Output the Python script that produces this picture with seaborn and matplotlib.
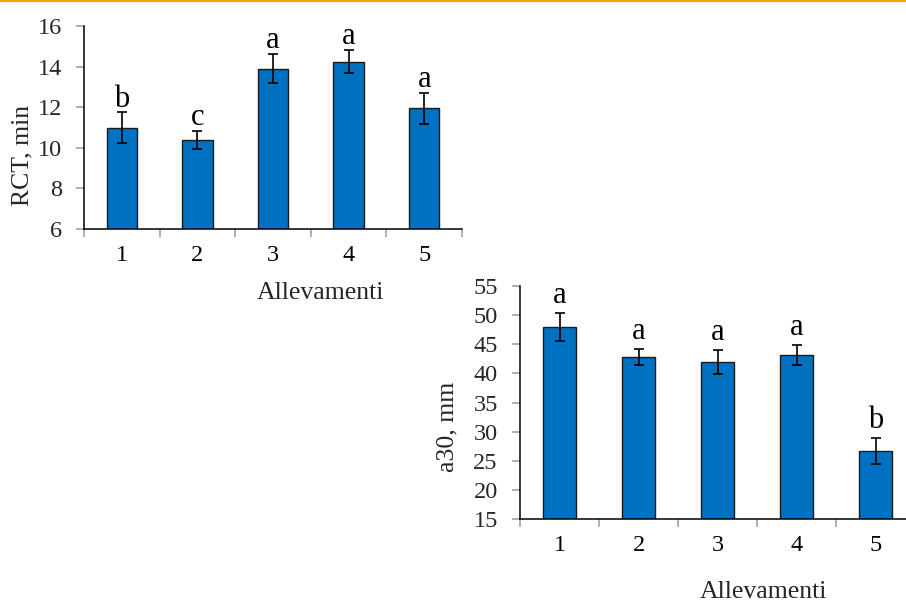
import matplotlib
matplotlib.use("Agg")
import matplotlib.pyplot as plt
from matplotlib.lines import Line2D
import numpy as np
import pandas as pd
import seaborn as sns

# Farm groups
allevamenti = ["1", "2", "3", "4", "5"]

# Rennet coagulation time (min): means, standard errors, significance letters
rct_mean = [11.0, 10.4, 13.9, 14.25, 11.95]
rct_err = [0.75, 0.45, 0.73, 0.58, 0.76]
rct_letters = ["b", "c", "a", "a", "a"]

# Curd firmness at 30 min (mm)
a30_mean = [48.0, 42.8, 42.0, 43.2, 26.7]
a30_err = [2.35, 1.4, 2.1, 1.7, 2.25]
a30_letters = ["a", "a", "a", "a", "b"]

rct_ticks = [6, 8, 10, 12, 14, 16]
a30_ticks = [15, 20, 25, 30, 35, 40, 45, 50, 55]

sns.set_style("white")
plt.rcParams["font.family"] = ["Liberation Serif", "DejaVu Serif"]

BAR_COLOR = "#0070C0"
TICK_GRAY = "#9a9a9a"
TICK_FS = 17.5
LETTER_FS = 22

fig = plt.figure(figsize=(9.06, 6.04), dpi=100)
W, H = 906, 604

ax1 = fig.add_axes([84 / W, 1 - 229 / H, 378 / W, 203 / H])
ax2 = fig.add_axes([520 / W, 1 - 519.3 / H, 395 / W, 233.3 / H])


def panel(ax, means, errs, letters, yticks, ylabel, bar_width, letter_pad,
          xlabel_xy, ylabel_xy):
    df = pd.DataFrame({"Allevamenti": allevamenti, "val": means})
    sns.barplot(data=df, x="Allevamenti", y="val", order=allevamenti, ax=ax,
                color=BAR_COLOR, saturation=1, width=bar_width,
                edgecolor="#1a1a1a", linewidth=1.0, errorbar=None)
    xs = np.arange(len(allevamenti))
    ax.errorbar(xs, means, yerr=errs, fmt="none", ecolor="black",
                elinewidth=1.2, capsize=3.5, capthick=1.2, zorder=5)
    for x, m, e, t in zip(xs, means, errs, letters):
        ax.annotate(t, (x, m + e), xytext=(0, letter_pad),
                    textcoords="offset points", ha="center", va="baseline",
                    fontsize=LETTER_FS, color="black")

    ax.set_xlim(-0.5, len(allevamenti) - 0.5)
    ax.set_ylim(yticks[0], yticks[-1])
    ax.set_yticks(yticks)
    ax.set_yticklabels([str(v) for v in yticks], fontsize=TICK_FS)

    # category boundaries carry the tick marks, centres carry the labels
    ax.set_xticks(np.arange(-0.5, len(allevamenti) + 0.5, 1.0))
    ax.set_xticklabels([])
    ax.set_xticks(xs, minor=True)
    ax.set_xticklabels(allevamenti, minor=True, fontsize=TICK_FS)

    ax.tick_params(axis="x", which="major", direction="out", length=6,
                   width=1.1, color=TICK_GRAY, bottom=True)
    ax.tick_params(axis="x", which="minor", length=0, pad=11.5,
                   labelcolor="black", bottom=True)
    ax.tick_params(axis="y", direction="out", length=6, width=1.1,
                   color=TICK_GRAY, pad=10, left=True)

    for s in ["top", "right"]:
        ax.spines[s].set_visible(False)
    for s in ["left", "bottom"]:
        ax.spines[s].set_color("black")
        ax.spines[s].set_linewidth(1.1)

    ax.set_xlabel("Allevamenti", fontsize=18.5, va="center")
    ax.xaxis.set_label_coords(*xlabel_xy)
    ax.set_ylabel(ylabel, fontsize=18.5, va="center")
    ax.yaxis.set_label_coords(*ylabel_xy)
    ax.grid(False)


panel(ax1, rct_mean, rct_err, rct_letters, rct_ticks, "RCT, min", 0.4, 4.0,
      ((320 - 84) / 378, (229 - 293.4) / 203),
      ((22 - 84) / 378, (229 - 155) / 203))
panel(ax2, a30_mean, a30_err, a30_letters, a30_ticks, "a30, mm", 0.41, 7.0,
      ((763 - 520) / 395, (519.3 - 591.5) / 233.3),
      ((447 - 520) / 395, (519.3 - 427) / 233.3))

# orange rule along the top edge
fig.add_artist(Line2D([0, 1], [1 - 1.0 / H, 1 - 1.0 / H],
                      transform=fig.transFigure, color="#F9A100", lw=1.6))

fig.savefig("out.png", dpi=100)
